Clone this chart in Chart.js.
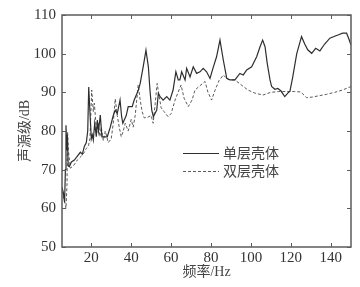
<!DOCTYPE html>
<html><head><meta charset="utf-8">
<script src="https://cdn.jsdelivr.net/npm/chart.js@4/dist/chart.umd.min.js"></script>
<style>html,body{margin:0;padding:0;background:#fff}#wrap{width:360px;height:287px}</style>
</head><body><div id="wrap"><canvas id="c" width="360" height="287"></canvas></div>
<script>
const seriesNames = ['单层壳体', '双层壳体'];
const xTickValues = [20, 40, 60, 80, 100, 120, 140];
const yTickValues = [50, 60, 70, 80, 90, 100, 110];

const freqSingle = [5.3,6.0,6.6,7.0,7.3,7.7,8.0,8.4,9.0,10.0,11.5,13,14.5,15.5,16.5,17.5,18.2,18.7,19.3,20.0,20.5,21,21.7,22.5,23,23.6,24.5,25.3,26.5,28,29.5,31,32,33,34.4,35.2,35.8,37.5,38.5,40.5,41.5,43.6,44.5,46,47.4,48.6,49.4,50.3,51.1,52.8,53.6,54.5,56,57.8,59.4,61,62.4,63.6,64.4,65.3,67,67.8,69.5,71.1,72.8,74.5,76.1,77.8,79.5,81.2,82.8,84.5,86.2,87.9,89.5,92,94.5,96.2,97.9,100.4,102.9,104.6,105.9,107.1,108.2,109.6,110.4,112,113.5,115,117,118.5,119.6,121,123,125.4,127,128.5,130.5,132.5,134.6,137,139.6,142,144,146,148,149,150.2];
const dbSingle = [65.5,64,61.5,70,81.5,75,79,71,70.8,72,72.5,73.5,74.5,74,76,77,80,91.4,85,78,79,77.7,82,78.5,82.8,80,84.1,78.5,78.5,78.5,81,84,85.4,84.5,88,83.7,82,84,86.3,86.3,88,90.6,92.3,96.6,100.9,96.6,90.6,85.4,83.7,85.4,89.7,88.9,88,88.9,88,90.6,95.3,93.2,93.2,95.3,93.2,96.2,94,96.6,94.9,95.3,96.2,95.3,93.6,96.6,99.2,103.5,98.3,93.6,93.2,93.2,94.9,94.5,95.8,96.6,99.2,101.8,103.5,101.8,97.5,93.2,91.5,90.8,91,90.4,88.9,89.8,90.3,94,100,104.4,102.5,101,100.1,101.4,100.7,102.5,104,104.5,104.9,105.3,105.3,104,102.2];

const freqDouble = [5.3,6.5,7.3,7.8,8.1,8.5,9.5,11,13,15,16.5,17.5,18.5,19.3,20.2,21,21.5,22.7,23.5,24.3,25,26,27,28.5,30,31,32,33,34,35,36,37,38.5,40,41,42,43.5,44.5,45.5,46.5,48,50,51,52,53,54,55,56.5,58.5,60,62,63.5,65,66.5,68.6,70.5,72,74,77,78.5,80.3,82,84,86.2,88,90,92,95,98.5,102,106,110,114,118,122,125,128,131,134,138,142,146,150.2];
const dbDouble = [64.5,62,60,66,79.8,75,70.4,71,72.5,73.5,74.5,75.5,76,78,90.6,85,87.2,79.5,82,78.5,81,77.5,80,77,78,82,88.3,84,81,78.5,80,82,80,83,81,84,91.9,88,85,83.4,83.5,84,82,87,92.3,89,86,85,83.7,84.5,88,90,91.9,88.5,86.3,88,90.6,91.5,92.8,90,88,90.5,93,94.5,93.5,93.2,93.2,92,90.6,89.8,89.3,90,90.2,90.2,90.2,90.1,88.6,88.8,89.1,89.5,90,90.6,91.5];

const toPts = (xs, ys) => xs.map((x, i) => ({x: x, y: ys[i]}));
const serif = '"Liberation Serif", "Noto Sans CJK SC", serif';
const lineColor = ['#2e2e2e', '#5a5a5a'];

const framePlugin = {
  id: 'frame',
  afterDatasetsDraw(chart) {
    const ctx = chart.ctx, a = chart.chartArea;
    const xs = chart.scales.x, ys = chart.scales.y;
    ctx.save();
    ctx.strokeStyle = '#5c5c5c';
    ctx.lineWidth = 1.5;
    ctx.strokeRect(a.left, a.top, a.right - a.left, a.bottom - a.top);
    ctx.lineWidth = 1;
    const tl = 4;
    xTickValues.forEach(v => {
      const px = Math.round(xs.getPixelForValue(v)) + 0.5;
      ctx.beginPath();
      ctx.moveTo(px, a.bottom); ctx.lineTo(px, a.bottom - tl);
      ctx.moveTo(px, a.top); ctx.lineTo(px, a.top + tl);
      ctx.stroke();
    });
    yTickValues.forEach(v => {
      const py = Math.round(ys.getPixelForValue(v)) + 0.5;
      ctx.beginPath();
      ctx.moveTo(a.left, py); ctx.lineTo(a.left + tl, py);
      ctx.moveTo(a.right, py); ctx.lineTo(a.right - tl, py);
      ctx.stroke();
    });
    // legend inside plot
    const lx0 = 183, lx1 = 219, tx = 223;
    const rows = [153, 171];
    chart.data.datasets.forEach((ds, i) => {
      const y = rows[i] + 0.5;
      ctx.strokeStyle = ds.borderColor;
      ctx.lineWidth = ds.borderWidth;
      ctx.setLineDash(ds.borderDash || []);
      ctx.beginPath(); ctx.moveTo(lx0, y); ctx.lineTo(lx1, y); ctx.stroke();
      ctx.setLineDash([]);
      ctx.fillStyle = '#444';
      ctx.font = '14px "Noto Sans CJK SC", serif';
      ctx.textBaseline = 'middle';
      ctx.textAlign = 'left';
      ctx.fillText(ds.label, tx, rows[i]);
    });
    ctx.restore();
  }
};

new Chart(document.getElementById('c'), {
  type: 'line',
  data: {
    datasets: [
      {label: seriesNames[0], data: toPts(freqSingle, dbSingle), borderColor: lineColor[0], borderWidth: 1.2, pointRadius: 0, tension: 0, fill: false},
      {label: seriesNames[1], data: toPts(freqDouble, dbDouble), borderColor: lineColor[1], borderWidth: 1, borderDash: [3, 2], pointRadius: 0, tension: 0, fill: false}
    ]
  },
  options: {
    responsive: false,
    animation: false,
    devicePixelRatio: 1,
    layout: {padding: {top: 15, right: 9, left: 0, bottom: 0}},
    plugins: {legend: {display: false}, tooltip: {enabled: false}},
    scales: {
      x: {
        type: 'linear', min: 5.3, max: 150.2,
        afterBuildTicks: s => { s.ticks = xTickValues.map(v => ({value: v})); },
        afterFit: s => { s.height = 40; },
        grid: {display: false, drawTicks: false},
        border: {display: false},
        ticks: {color: '#333', font: {family: serif, size: 15}, padding: 2, maxRotation: 0},
        title: {display: true, text: '频率/Hz', color: '#444', font: {family: serif, size: 14}, padding: {top: 0, bottom: 6}}
      },
      y: {
        min: 50, max: 110,
        afterBuildTicks: s => { s.ticks = yTickValues.map(v => ({value: v})); },
        afterFit: s => { s.width = 62; },
        grid: {display: false, drawTicks: false},
        border: {display: false},
        ticks: {color: '#333', font: {family: serif, size: 15}, padding: 6},
        title: {display: true, text: '声源级/dB', color: '#444', font: {family: serif, size: 14}, padding: {top: 17, bottom: 0}}
      }
    }
  },
  plugins: [framePlugin]
});
</script></body></html>
